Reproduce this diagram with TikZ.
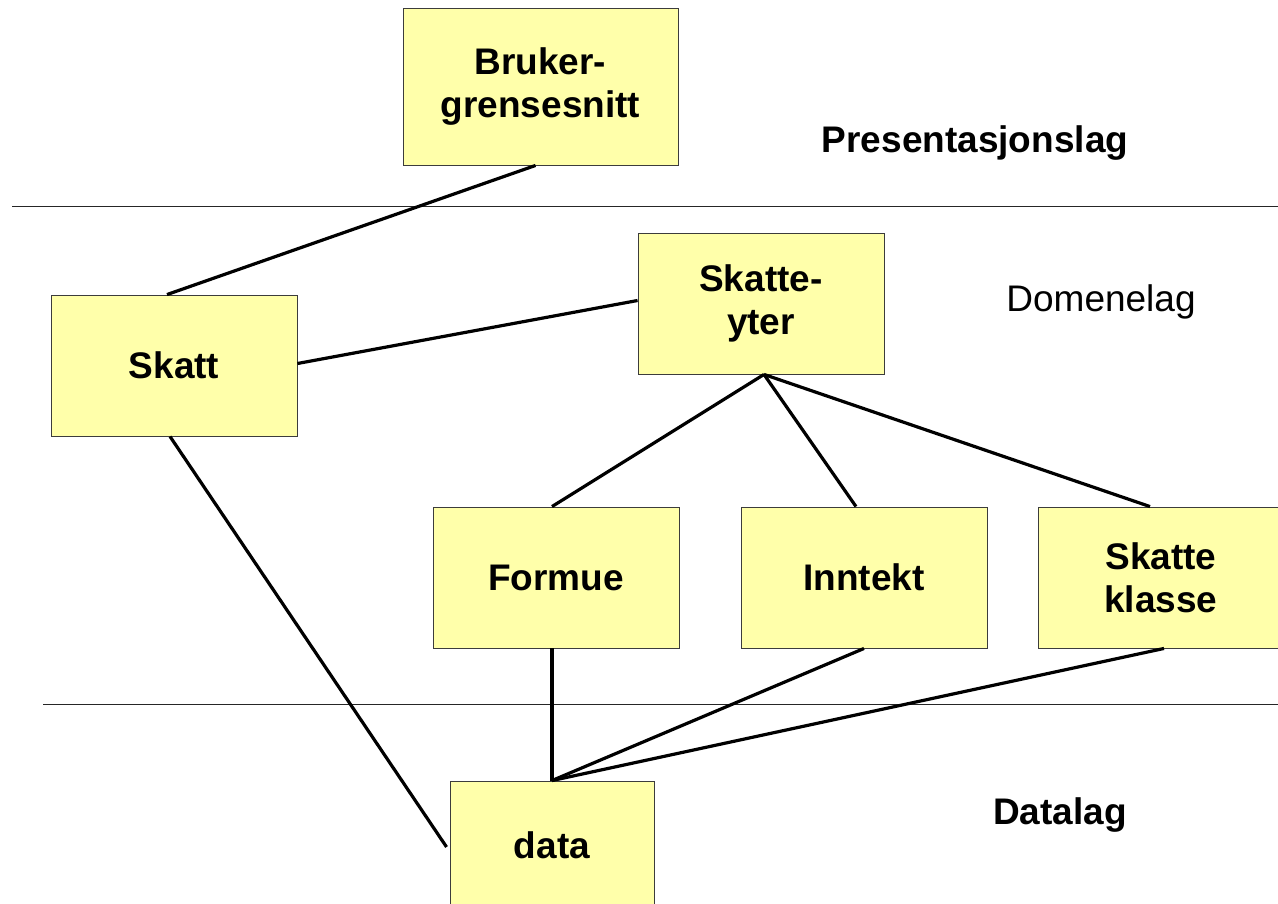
\documentclass[tikz,border=0pt]{standalone}
\usepackage{fontspec}
\setmainfont{Liberation Sans}
\definecolor{boxfill}{RGB}{255,255,170}
\definecolor{boxline}{RGB}{60,60,60}
\begin{document}
\begin{tikzpicture}[x=1pt,y=-1pt,
  box/.style={draw=boxline,line width=0.9pt,fill=boxfill,rectangle,
    minimum width=246pt,minimum height=141pt,inner sep=0pt,
    align=center,font=\fontsize{37}{43}\selectfont\bfseries},
  link/.style={line width=3.2pt,black},
  layer/.style={line width=1pt,black!85},
  tier/.style={font=\fontsize{37}{43}\selectfont}]
\useasboundingbox (0,0) rectangle (1278,903);
\clip (0,0) rectangle (1278,903);

% layer separators
\coordinate (l1a) at (12,206);  \coordinate (l1b) at (1278,206);
\coordinate (l2a) at (43,704);  \coordinate (l2b) at (1278,704);
\draw[layer] (l1a) -- (l1b);
\draw[layer] (l2a) -- (l2b);

% classes
\node[box,minimum width=275pt,minimum height=157pt] (ui) at (540.5,86.5) {Bruker-\\grensesnitt};
\node[box] (skatt)  at (174,365.5) {Skatt};
\node[box] (yter)   at (761,303.5) {Skatte-\\yter};
\node[box] (formue) at (556,577.5) {Formue};
\node[box] (inn)    at (864,577.5) {Inntekt};
\node[box] (klasse) at (1161,577.5) {Skatte\\klasse};
\node[box,minimum width=204pt,minimum height=128pt] (data) at (552,845) {data};

% layer names
\node[tier,font=\fontsize{37}{43}\selectfont\bfseries] (pres) at (975,143) {Presentasjonslag};
\node[tier] (dom) at (1101,302) {Domenelag};
\node[tier,font=\fontsize{37}{43}\selectfont\bfseries] (dat) at (1060,815) {Datalag};

% associations
\draw[link] ([xshift=-5pt]ui.south) -- ([xshift=-7pt]skatt.north);
\draw[link] ([yshift=2pt]skatt.east) -- ([yshift=3pt]yter.west);
\draw[link] ([xshift=3pt]yter.south) -- ([xshift=-4pt]formue.north);
\draw[link] ([xshift=3pt]yter.south) -- ([xshift=-8pt]inn.north);
\draw[link] ([xshift=3pt]yter.south) -- ([xshift=-11pt]klasse.north);
\draw[link] ([xshift=-4pt]skatt.south) -- ([xshift=-3pt,yshift=-2pt]data.west);
\draw[link] ([xshift=-4pt]formue.south) -- (data.north);
\draw[link] (inn.south) -- (data.north);
\draw[link] ([xshift=3pt]klasse.south) -- (data.north);
\end{tikzpicture}
\end{document}
